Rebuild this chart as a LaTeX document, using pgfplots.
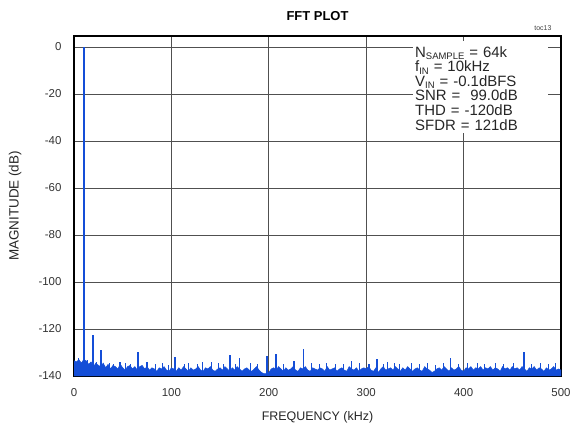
\documentclass[border=0pt]{standalone}
\usepackage{fontspec}
\setmainfont{Liberation Sans}
\usepackage{pgfplots}
\pgfplotsset{compat=1.18}

\definecolor{fftblue}{RGB}{20,78,215}
\definecolor{gridgray}{RGB}{80,80,80}
\newcommand{\sub}[1]{\raisebox{-2.2bp}{\fontsize{9.5}{9.5}\selectfont #1}}

\begin{document}
\begin{tikzpicture}[x=1bp,y=1bp]
  % page = 571 x 431 px, axis box 487 x 340 px with its SW corner at (0,0)
  \useasboundingbox (-74,-55) rectangle (497,376);
  \begin{axis}[
      scale only axis,
      width=487bp, height=340bp,
      % magnitudes are drawn relative to the -140 dB floor so that the combs start there
      y filter/.expression={y+140},
      xmin=0, xmax=500, ymin=0, ymax=144.7,
      xtick={0,100,...,500},
      ytick={0,20,...,140},
      yticklabels={-140,-120,-100,-80,-60,-40,-20,0},
      xticklabels={0,100,200,300,400,500},
      major tick length=0pt,
      grid=major,
      major grid style={gridgray, line width=0.9bp},
      axis line style={black, line width=1.3bp},
      tick label style={font=\fontsize{11.5}{13}\selectfont, text=black!80},
      xticklabel style={yshift=-9bp},
      yticklabel style={xshift=-9bp},
      xlabel={FREQUENCY (kHz)},
      ylabel={MAGNITUDE (dB)},
      every axis x label/.style={at={(axis description cs:0.5,0)}, anchor=north, yshift=-32bp,
        font=\fontsize{12.5}{14}\selectfont, text=black!85},
      every axis y label/.style={at={(axis description cs:0,0.5)}, anchor=south, rotate=90, yshift=49bp,
        font=\fontsize{13.5}{15}\selectfont, text=black!85},
      title={FFT PLOT},
      title style={font=\bfseries\fontsize{13}{15}\selectfont, yshift=6bp},
      clip=true,
    ]

    %% --- noise floor envelope (filled down to -140 dB) ---
    \addplot[draw=fftblue, line width=0.5bp, fill=fftblue] coordinates {
      (0,-140) (0,-133.5) (2.5,-134) (5,-133) (7.5,-134.5) (10,-133) (12.5,-133.5) (15,-135) (17.5,-134) (20,-136) (22.5,-134.5)
      (25,-135.5) (27.5,-136) (30,-134.5) (32.5,-136.5) (35,-135) (37.5,-137) (40,-135.5) (42.5,-136) (45,-137) (47.5,-135)
      (50,-136.5) (52.5,-137.5) (55,-136) (57.5,-135.5) (60,-137) (62.5,-136) (65,-137.5) (67.5,-136) (70,-135.5) (72.5,-137)
      (75,-136) (77.5,-137.5) (80,-136.5) (82.5,-137) (85,-138) (87.5,-136.5) (90,-137) (92.5,-136) (95,-137.5) (97.5,-138)
      (100,-136.5) (102.5,-137) (105,-138) (107.5,-136.5) (110,-137.5) (112.5,-136) (115,-137) (117.5,-138) (120,-136.5) (122.5,-137.5)
      (125,-137) (127.5,-136) (130,-137.5) (132.5,-138) (135,-136.5) (137.5,-137) (140,-136) (142.5,-137.5) (145,-138) (147.5,-137)
      (150,-136.5) (152.5,-137.5) (155,-136) (157.5,-137) (160,-138) (162.5,-136.5) (165,-137.5) (167.5,-136) (170,-137) (172.5,-138)
      (175,-137) (177.5,-136.5) (180,-137.5) (182.5,-138) (185,-137) (187.5,-136) (190,-137.5) (192.5,-138.5) (195,-139) (197.5,-139)
      (200,-138.5) (202.5,-137) (205,-136.5) (207.5,-137.5) (210,-136) (212.5,-137) (215,-138) (217.5,-136.5) (220,-137.5) (222.5,-137)
      (225,-136) (227.5,-137.5) (230,-138) (232.5,-136.5) (235,-137) (237.5,-136) (240,-137.5) (242.5,-138) (245,-136.5) (247.5,-137)
      (250,-137.5) (252.5,-136.5) (255,-137) (257.5,-138) (260,-136) (262.5,-137.5) (265,-137) (267.5,-136.5) (270,-138) (272.5,-137)
      (275,-136.5) (277.5,-137.5) (280,-138) (282.5,-136) (285,-137) (287.5,-137.5) (290,-136.5) (292.5,-138) (295,-137) (297.5,-136.5)
      (300,-137) (302.5,-136) (305,-137.5) (307.5,-138) (310,-136.5) (312.5,-138.5) (315,-137) (317.5,-136) (320,-137.5) (322.5,-137)
      (325,-136.5) (327.5,-137.5) (330,-136) (332.5,-137) (335,-138) (337.5,-136.5) (340,-137.5) (342.5,-136) (345,-137) (347.5,-138)
      (350,-137) (352.5,-136.5) (355,-137.5) (357.5,-138) (360,-136) (362.5,-137) (365,-137.5) (367.5,-138.5) (370,-138) (372.5,-137)
      (375,-136.5) (377.5,-137.5) (380,-136) (382.5,-137) (385,-138) (387.5,-136.5) (390,-137.5) (392.5,-137) (395,-136) (397.5,-137.5)
      (400,-138) (402.5,-136.5) (405,-137) (407.5,-136) (410,-137.5) (412.5,-136.5) (415,-137) (417.5,-136) (420,-137.5) (422.5,-136.5)
      (425,-137) (427.5,-136) (430,-137.5) (432.5,-136.5) (435,-137) (437.5,-138) (440,-136) (442.5,-137) (445,-136.5) (447.5,-137.5)
      (450,-136) (452.5,-137) (455,-136.5) (457.5,-137.5) (460,-136) (462.5,-137) (465,-138) (467.5,-136.5) (470,-137) (472.5,-136)
      (475,-137.5) (477.5,-136.5) (480,-137) (482.5,-138) (485,-136.5) (487.5,-137.5) (490,-137) (492.5,-136) (495,-137.5) (497.5,-137)
      (500,-137.5) (500,-140)
    };

    %% --- small bins poking out of the floor ---
    \addplot[ycomb, fftblue, line width=0.9bp, mark=none] coordinates {
      (5,-132.5) (14,-133) (23,-134) (36,-134.5) (41,-135) (53,-134.5) (58,-135) (84,-135) (91,-134.5) (97,-135.5)
      (113,-135) (118,-134.5) (127,-135) (148,-134.5) (153,-135) (166,-135) (181,-134.5) (188,-135) (215,-135) (244,-134.5)
      (252,-135) (259,-134.5) (268,-135) (277,-135) (293,-134.5) (318,-135) (329,-134.5) (334,-135) (346,-134.5) (355,-135)
      (363,-134.5) (371,-135.5) (379,-134.5) (395,-135) (404,-134.5) (414,-134.5) (421,-135) (433,-134.5) (441,-135) (451,-134.5)
      (470,-135) (479,-134.5) (487,-135) (494,-134.5)
    };

    %% --- fundamental and spurs ---
    \addplot[ycomb, fftblue, line width=1.6bp, mark=none] coordinates {
      (10,-0.1) (19.5,-122.6) (28,-129) (47,-134) (65.5,-129.8) (75,-134) (104,-132) (132,-134) (141,-134)
      (160,-131) (170,-132.5) (198,-131.4) (207.5,-130.6) (226,-133.8) (235.5,-128.5) (285,-133.5) (303,-135)
      (311,-132.7) (322,-134) (386.7,-132.4) (462,-129.7)
    };

    %% --- test conditions box ---
    \node[fill=white, inner xsep=2bp, inner ysep=3bp, anchor=north west, align=left,
          text width=131bp, font=\fontsize{15}{14.6}\selectfont, text=black!85]
      at (rel axis cs:0.696,0.985)
      {\rule{0pt}{13bp}N\sub{SAMPLE} = 64k\\
       f\sub{IN} = 10kHz\\
       V\sub{IN} = -0.1dBFS\\
       SNR =\ \ 99.0dB\\
       THD = -120dB\\
       SFDR = 121dB\\[26bp]};
  \end{axis}
  \node[font=\fontsize{7}{8}\selectfont, text=black!75, anchor=east] at (481,348) {toc13};
\end{tikzpicture}
\end{document}
